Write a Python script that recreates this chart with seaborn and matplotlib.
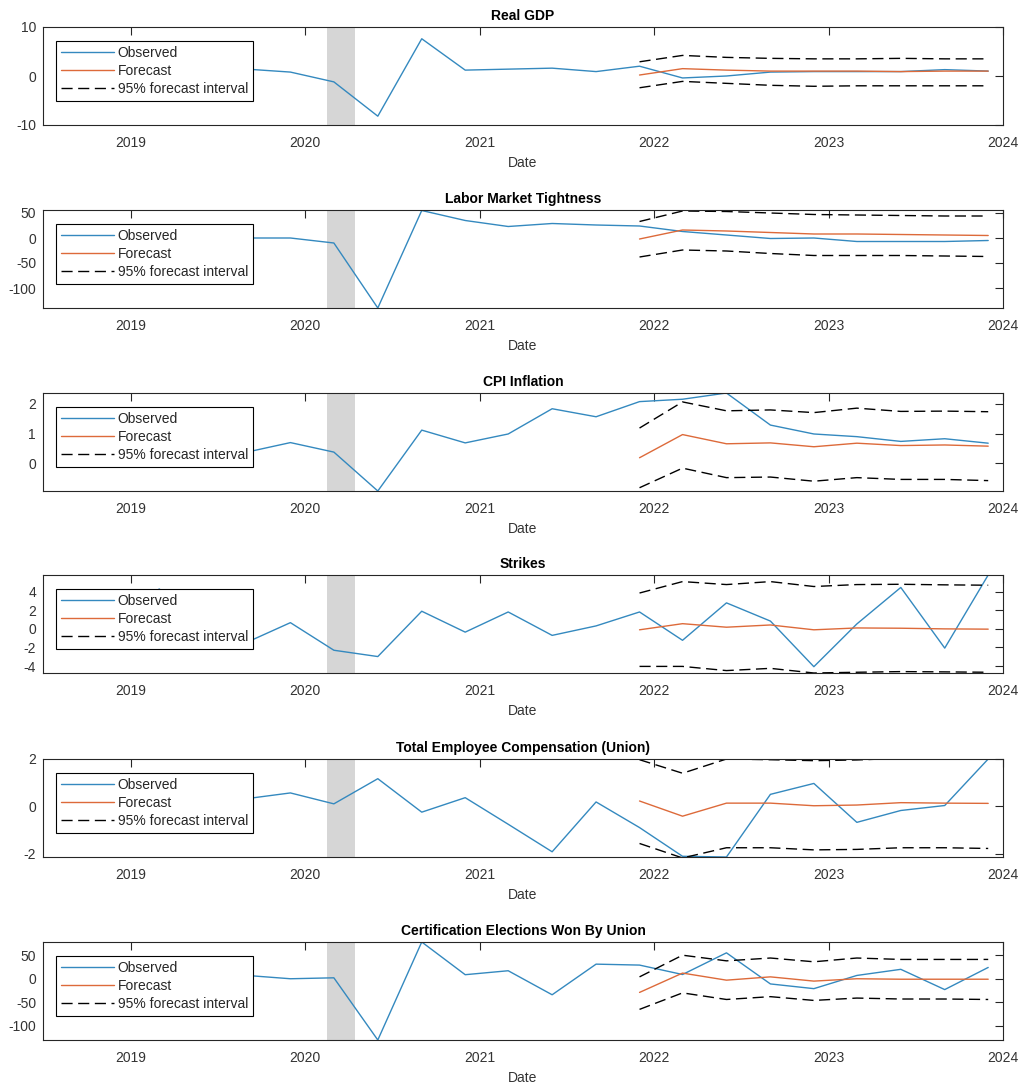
import numpy as np
import pandas as pd
import matplotlib
matplotlib.use("Agg")
import matplotlib.pyplot as plt
import matplotlib.dates as mdates
import seaborn as sns

# ---- data ----
obs_dates = pd.date_range("2019-09-01", "2023-12-01", freq="3MS")
strikes_dates = pd.date_range("2019-03-01", "2023-12-01", freq="3MS")
fc_dates = pd.date_range("2021-12-01", "2023-12-01", freq="3MS")
rec_start, rec_end = "2020-02-15", "2020-04-15"

titles = ["Real GDP", "Labor Market Tightness", "CPI Inflation", "Strikes",
          "Total Employee Compensation (Union)", "Certification Elections Won By Union"]

gdp_obs = [1.4, 0.8, -1.2, -8.2, 7.6, 1.2, 1.4, 1.6, 0.9, 2.0, -0.4, 0.0, 0.8, 0.9, 0.9, 0.9, 1.3, 1.0]
gdp_fc = [0.2, 1.5, 1.2, 1.0, 1.0, 1.0, 0.9, 1.0, 1.0]
gdp_hi = [2.9, 4.2, 3.8, 3.6, 3.5, 3.5, 3.6, 3.5, 3.5]
gdp_lo = [-2.4, -1.1, -1.5, -1.9, -2.1, -2.0, -2.0, -2.0, -2.0]

lab_obs = [0, 0, -10, -140, 55, 35, 23, 29, 26, 24, 13, 6, -1, 0, -7, -7, -7, -5]
lab_fc = [-2, 16, 14, 11, 8, 8, 7, 6, 5]
lab_hi = [33, 54, 53, 50, 47, 46, 45, 44, 44]
lab_lo = [-38, -24, -26, -31, -35, -35, -35, -36, -37]

cpi_obs = [0.38, 0.7, 0.38, -0.93, 1.12, 0.69, 0.99, 1.84, 1.57, 2.08, 2.16, 2.37, 1.29, 0.99, 0.9, 0.74, 0.83, 0.68]
cpi_fc = [0.19, 0.97, 0.66, 0.69, 0.56, 0.68, 0.6, 0.62, 0.58]
cpi_hi = [1.19, 2.07, 1.77, 1.8, 1.71, 1.86, 1.75, 1.76, 1.74]
cpi_lo = [-0.82, -0.16, -0.48, -0.46, -0.6, -0.48, -0.54, -0.54, -0.58]

str_obs = [4.3, 1.0, -1.44, 0.67, -2.3, -2.98, 1.9, -0.35, 1.82, -0.7, 0.32, 1.82,
           -1.23, 2.8, 0.84, -4.07, 0.53, 4.46, -2.07, 5.8]
str_fc = [-0.1, 0.56, 0.18, 0.42, -0.1, 0.1, 0.07, 0.0, -0.03]
str_hi = [3.86, 5.09, 4.77, 5.09, 4.56, 4.77, 4.8, 4.74, 4.7]
str_lo = [-4.04, -4.04, -4.49, -4.25, -4.75, -4.67, -4.6, -4.63, -4.67]

comp_obs = [0.33, 0.57, 0.11, 1.17, -0.24, 0.37, -0.75, -1.91, 0.19, -0.89, -2.1, -2.13,
            0.51, 0.97, -0.67, -0.17, 0.04, 2.0]
comp_fc = [0.23, -0.41, 0.14, 0.14, 0.03, 0.06, 0.16, 0.14, 0.13]
comp_hi = [1.97, 1.4, 2.0, 1.97, 1.93, 1.96, 2.03, 2.0, 2.0]
comp_lo = [-1.56, -2.17, -1.74, -1.74, -1.83, -1.81, -1.74, -1.74, -1.77]

cert_obs = [7, 0, 2, -130, 78, 8.6, 17, -34, 31, 29, 9, 55, -11, -21, 7, 20, -23, 24]
cert_fc = [-29, 12, -3, 4, -5, 0, -1, -1, -1]
cert_hi = [4, 50, 38, 44, 36, 44, 41, 41, 41]
cert_lo = [-65, -30, -44, -38, -46, -41, -43, -43, -44]

series = [
    (obs_dates, gdp_obs, gdp_fc, gdp_hi, gdp_lo),
    (obs_dates, lab_obs, lab_fc, lab_hi, lab_lo),
    (obs_dates, cpi_obs, cpi_fc, cpi_hi, cpi_lo),
    (strikes_dates, str_obs, str_fc, str_hi, str_lo),
    (obs_dates, comp_obs, comp_fc, comp_hi, comp_lo),
    (obs_dates, cert_obs, cert_fc, cert_hi, cert_lo),
]
ylims = [(-10, 10), (-140, 56), (-0.93, 2.37), (-4.75, 5.8), (-2.13, 2.0), (-130, 78)]
yticks = [[-10, 0, 10], [-100, -50, 0, 50], [0, 1, 2], [-4, -2, 0, 2, 4], [-2, 0, 2], [-100, -50, 0, 50]]

# ---- style ----
sns.set_style("white")
plt.rcParams["font.family"] = ["Liberation Sans", "DejaVu Sans"]
plt.rcParams["axes.unicode_minus"] = False
plt.rcParams["font.size"] = 10

c_obs = "#3489bf"
c_fc = "#dd6a3a"
c_axis = "#262626"
dash = (0, (8, 4))

W, H = 1029, 1088
fig = plt.figure(figsize=(W / 100, H / 100), dpi=100)
tops = [27, 210, 393, 575, 759, 942]
left_px, right_px, h_px = 43, 1003, 98

for i, (dts, obs, fc, hi, lo) in enumerate(series):
    top = tops[i]
    ax = fig.add_axes([left_px / W, 1 - (top + h_px) / H, (right_px - left_px) / W, h_px / H])

    # recession shading
    ax.axvspan(pd.Timestamp(rec_start), pd.Timestamp(rec_end), color="#d6d6d6", lw=0, zorder=0)
    sns.lineplot(x=dts, y=obs, ax=ax, color=c_obs, linewidth=1.0)
    sns.lineplot(x=fc_dates, y=fc, ax=ax, color=c_fc, linewidth=1.0)
    sns.lineplot(x=fc_dates, y=hi, ax=ax, color="black", linewidth=1.0, linestyle=dash)
    sns.lineplot(x=fc_dates, y=lo, ax=ax, color="black", linewidth=1.0, linestyle=dash)

    ax.set_xlim(pd.Timestamp("2018-07-01"), pd.Timestamp("2024-01-01"))
    ax.set_ylim(*ylims[i])
    ax.set_yticks(yticks[i])
    ax.xaxis.set_major_locator(mdates.YearLocator())
    ax.xaxis.set_major_formatter(mdates.DateFormatter("%Y"))
    ax.tick_params(axis="both", direction="in", length=5.5, width=0.8, color=c_axis,
                   labelsize=10, top=True, right=True, labelcolor="#333333")
    ax.tick_params(axis="x", pad=8)
    ax.tick_params(axis="y", pad=5)
    for s in ax.spines.values():
        s.set_color(c_axis)
        s.set_linewidth(0.8)

    ax.set_title(titles[i], fontsize=10, fontweight="bold", pad=5, color="black")
    ax.set_xlabel("Date", fontsize=10, labelpad=4, color="#333333")
    ax.set_ylabel("")

    lines = ax.get_lines()
    leg = ax.legend([lines[0], lines[1], lines[2]],
                    ["Observed", "Forecast", "95% forecast interval"],
                    loc="upper left", bbox_to_anchor=(13 / 960, 1 - 14 / 98),
                    borderaxespad=0, fancybox=False, framealpha=1, edgecolor="black",
                    fontsize=10, handlelength=3.8, handletextpad=0.3,
                    labelspacing=0.3, borderpad=0.35)
    leg.get_frame().set_linewidth(0.8)

fig.savefig("out.png", dpi=100)
